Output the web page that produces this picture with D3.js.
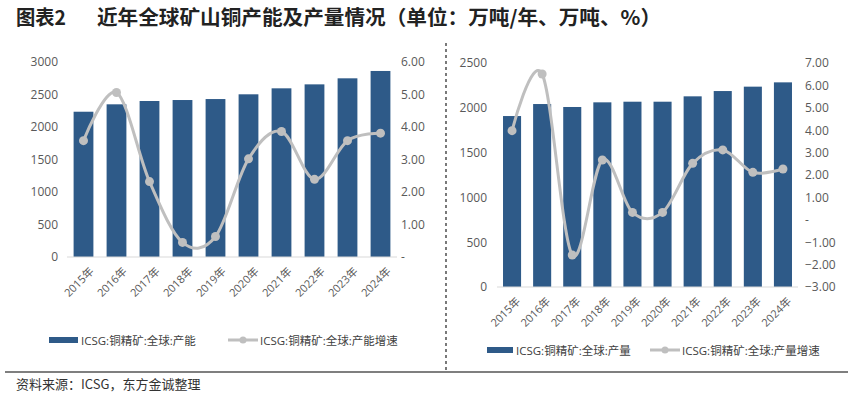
<!DOCTYPE html>
<html>
<head>
<meta charset="utf-8">
<script src="https://cdn.jsdelivr.net/npm/d3@7"></script>
<style>
  body { margin: 0; background: #fff; }
  svg text { font-family: "Open Sans", "Noto Sans CJK SC", sans-serif; }
</style>
</head>
<body>
<div id="chart"></div>
<script>
var years = ["2015年","2016年","2017年","2018年","2019年","2020年","2021年","2022年","2023年","2024年"];

// left panel: capacity (万吨/年) and growth (%)
var capacity = [2235, 2349, 2400, 2415, 2430, 2503, 2595, 2656, 2749, 2862];
var capacityGrowth = [3.58, 5.06, 2.32, 0.45, 0.63, 3.02, 3.86, 2.39, 3.58, 3.81];
var capTicksL = [0, 500, 1000, 1500, 2000, 2500, 3000];
var capTicksR = [0, 1, 2, 3, 4, 5, 6];

// right panel: output (万吨) and growth (%)
var output = [1908, 2042, 2009, 2061, 2068, 2068, 2128, 2187, 2236, 2284];
var outputGrowth = [3.98, 6.51, -1.57, 2.67, 0.33, 0.33, 2.52, 3.12, 2.12, 2.27];
var outTicksL = [0, 500, 1000, 1500, 2000, 2500];
var outTicksR = [-3, -2, -1, 0, 1, 2, 3, 4, 5, 6, 7];

var W = 853, H = 395;
var barColor = "#2E5A88", lineColor = "#BFBFBF", txt = "#595959";

var svg = d3.select("#chart").append("svg")
  .attr("width", W).attr("height", H);

var title = svg.append("text")
  .attr("x", 16).attr("y", 25)
  .style("font-family", "'Noto Sans CJK SC'")
  .style("font-size", "20px").style("font-weight", "bold").style("fill", "#222");
title.append("tspan").attr("textLength", 50).attr("lengthAdjust", "spacingAndGlyphs").text("图表2");
title.append("tspan").attr("x", 97).attr("textLength", 564).attr("lengthAdjust", "spacingAndGlyphs")
  .text("近年全球矿山铜产能及产量情况（单位：万吨/年、万吨、%）");

// separators
svg.append("line")
  .attr("x1", 446).attr("x2", 446).attr("y1", 43).attr("y2", 370)
  .attr("stroke", "#222").attr("stroke-width", 1.2).attr("stroke-dasharray", "3,3");
svg.append("line")
  .attr("x1", 5).attr("x2", 848).attr("y1", 372).attr("y2", 372)
  .attr("stroke", "#7F7F7F").attr("stroke-width", 2);
svg.append("text")
  .attr("x", 16).attr("y", 389)
  .style("font-family", "'Noto Sans CJK SC'")
  .style("font-size", "13px").style("fill", "#333")
  .text("资料来源：ICSG，东方金诚整理");

function fmtR(v) { return v === 0 ? "-" : d3.format(".2f")(v); }

function panel(p) {
  var g = svg.append("g");
  var x = d3.scaleBand().domain(years).range([p.x0, p.x1]).paddingInner(p.pad).paddingOuter(p.pad / 2);
  var yL = d3.scaleLinear().domain(d3.extent(p.ticksL)).range([p.yb, p.yt]);
  var yR = d3.scaleLinear().domain(d3.extent(p.ticksR)).range([p.yb, p.yt]);

  g.selectAll(".bar").data(p.bars).enter().append("rect")
    .attr("class", "bar")
    .attr("x", function(d, i) { return x(years[i]); })
    .attr("width", x.bandwidth())
    .attr("y", function(d) { return yL(d); })
    .attr("height", function(d) { return yL(0) - yL(d); })
    .style("fill", barColor);

  g.append("line")
    .attr("x1", p.x0).attr("x2", p.x1).attr("y1", p.yb).attr("y2", p.yb)
    .attr("stroke", "#D9D9D9").attr("stroke-width", 1);

  var axL = g.append("g").attr("transform", "translate(" + p.x0 + ",0)")
    .call(d3.axisLeft(yL).tickValues(p.ticksL).tickSize(0).tickPadding(p.padL).tickFormat(d3.format("d")));
  var axR = g.append("g").attr("transform", "translate(" + p.x1 + ",0)")
    .call(d3.axisRight(yR).tickValues(p.ticksR).tickSize(0).tickPadding(p.padR).tickFormat(fmtR));
  [axL, axR].forEach(function(a) {
    a.select(".domain").remove();
    a.selectAll("text").style("font-size", "12px").style("fill", txt)
      .style("font-family", "'Open Sans', sans-serif");
  });

  var axX = g.append("g").attr("transform", "translate(0," + p.yb + ")")
    .call(d3.axisBottom(x).tickSize(0).tickPadding(0));
  axX.select(".domain").remove();
  axX.selectAll("text")
    .attr("text-anchor", "end")
    .attr("dy", 0).attr("y", 0)
    .attr("transform", "translate(" + p.xoff + "," + p.xlab + ") rotate(-45)")
    .style("font-size", "11px").style("fill", txt);

  var line = d3.line()
    .x(function(d, i) { return x(years[i]) + x.bandwidth() / 2; })
    .y(function(d) { return yR(d); })
    .curve(d3.curveCatmullRom.alpha(0));
  g.append("path").datum(p.growth)
    .attr("d", line).attr("fill", "none")
    .attr("stroke", lineColor).attr("stroke-width", 3);
  g.selectAll(".pt").data(p.growth).enter().append("circle")
    .attr("class", "pt")
    .attr("cx", function(d, i) { return x(years[i]) + x.bandwidth() / 2; })
    .attr("cy", function(d) { return yR(d); })
    .attr("r", 4.5).style("fill", lineColor);

  // legend
  var lg = g.append("g").attr("transform", "translate(" + p.lx + "," + p.ly + ")");
  lg.append("rect").attr("x", 0).attr("y", -3).attr("width", p.sw).attr("height", 6).style("fill", barColor);
  lg.append("text").attr("x", p.sw + 3).attr("y", 4.5).text(p.name1)
    .style("font-size", "11.5px").style("fill", "#404040");
  lg.append("line").attr("x1", p.l2).attr("x2", p.l2 + 30).attr("y1", 0).attr("y2", 0)
    .attr("stroke", lineColor).attr("stroke-width", 3);
  lg.append("circle").attr("cx", p.l2 + 15).attr("cy", 0).attr("r", 3.5).style("fill", lineColor);
  lg.append("text").attr("x", p.l2 + 32).attr("y", 4.5).text(p.name2)
    .style("font-size", "11.5px").style("fill", "#404040");
}

panel({
  x0: 67, x1: 397, yt: 62, yb: 257, pad: 0.4, padL: 9, padR: 4,
  ticksL: capTicksL, ticksR: capTicksR,
  bars: capacity, growth: capacityGrowth,
  xoff: 11, xlab: 15,
  lx: 49, ly: 340, sw: 29, l2: 179,
  name1: "ICSG:铜精矿:全球:产能", name2: "ICSG:铜精矿:全球:产能增速"
});

panel({
  x0: 497, x1: 798, yt: 63, yb: 287, pad: 0.4, padL: 10, padR: 7,
  ticksL: outTicksL, ticksR: outTicksR,
  bars: output, growth: outputGrowth,
  xoff: 9, xlab: 15,
  lx: 487, ly: 350, sw: 26, l2: 163,
  name1: "ICSG:铜精矿:全球:产量", name2: "ICSG:铜精矿:全球:产量增速"
});
</script>
</body>
</html>
